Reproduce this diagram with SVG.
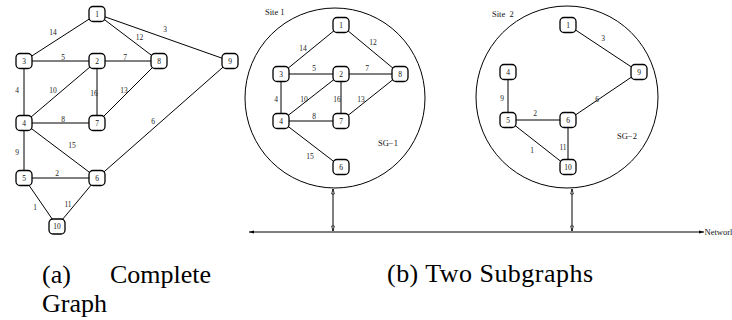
<svg xmlns="http://www.w3.org/2000/svg" width="732" height="320" viewBox="0 0 732 320">
  <defs>
    <style>
      .edge { stroke: #000; stroke-width: 1; fill: none; }
      .box { fill: #fff; stroke: #000; stroke-width: 1.3; }
      .nl { font-family: "Liberation Serif", serif; font-size: 7.5px; text-anchor: middle; fill: #111; opacity: 0.99; }
      .el { font-family: "Liberation Serif", serif; font-size: 7.5px; text-anchor: middle; fill: #222; opacity: 0.99; }
      .site { fill: none; stroke: #000; stroke-width: 1; }
      .tag { font-family: "Liberation Serif", serif; font-size: 8.5px; fill: #111; opacity: 0.99; }
      .cap { font-family: "Liberation Serif", serif; font-size: 26px; fill: #000; }
    </style>
    <marker id="hollow" viewBox="-1 -3 8 6" refX="5" refY="0" markerWidth="8" markerHeight="6" markerUnits="userSpaceOnUse" orient="auto-start-reverse">
      <path d="M0,-1.3 L5,0 L0,1.3 z" fill="#fff" stroke="#000" stroke-width="0.8"/>
    </marker>
    <marker id="solid" viewBox="-1 -3 8 6" refX="5" refY="0" markerWidth="8" markerHeight="6" markerUnits="userSpaceOnUse" orient="auto-start-reverse">
      <path d="M0,-1.6 L5,0 L0,1.6 z" fill="#000"/>
    </marker>
  </defs>
  <rect width="732" height="320" fill="#fff"/>

  <!-- (a) complete graph: connectors -->
  <g id="a-edges">
    <line class="edge" x1="97" y1="14" x2="24" y2="61"/>
    <line class="edge" x1="97" y1="14" x2="159" y2="61"/>
    <line class="edge" x1="97" y1="14" x2="230" y2="61"/>
    <line class="edge" x1="24" y1="61" x2="97" y2="61"/>
    <line class="edge" x1="97" y1="61" x2="159" y2="61"/>
    <line class="edge" x1="24" y1="61" x2="24" y2="123"/>
    <line class="edge" x1="97" y1="61" x2="24" y2="123"/>
    <line class="edge" x1="97" y1="61" x2="97" y2="123"/>
    <line class="edge" x1="159" y1="61" x2="97" y2="123"/>
    <line class="edge" x1="24" y1="123" x2="97" y2="123"/>
    <line class="edge" x1="24" y1="123" x2="97" y2="178"/>
    <line class="edge" x1="230" y1="61" x2="97" y2="178"/>
    <line class="edge" x1="24" y1="123" x2="24" y2="178"/>
    <line class="edge" x1="24" y1="178" x2="97" y2="178"/>
    <line class="edge" x1="24" y1="178" x2="57" y2="226"/>
    <line class="edge" x1="97" y1="178" x2="57" y2="226"/>
    <text class="el" x="53" y="34.5">14</text>
    <text class="el" x="139.5" y="40">12</text>
    <text class="el" x="165" y="31.5">3</text>
    <text class="el" x="63" y="59.5">5</text>
    <text class="el" x="125" y="59.5">7</text>
    <text class="el" x="17" y="92.5">4</text>
    <text class="el" x="53" y="92.5">10</text>
    <text class="el" x="94" y="95.5">16</text>
    <text class="el" x="124" y="92.5">13</text>
    <text class="el" x="63" y="121.5">8</text>
    <text class="el" x="72" y="147.5">15</text>
    <text class="el" x="153" y="123.5">6</text>
    <text class="el" x="17" y="154.5">9</text>
    <text class="el" x="57" y="175.5">2</text>
    <text class="el" x="35" y="209.5">1</text>
    <text class="el" x="68" y="206.5">11</text>
  </g>

  <!-- (a) complete graph: nodes -->
  <g id="a-n1"><rect class="box" x="89" y="6.5" width="16" height="15" rx="4"/><text class="nl" x="97" y="16.5">1</text></g>
  <g id="a-n2"><rect class="box" x="89" y="53.5" width="16" height="15" rx="4"/><text class="nl" x="97" y="63.5">2</text></g>
  <g id="a-n3"><rect class="box" x="16" y="53.5" width="16" height="15" rx="4"/><text class="nl" x="24" y="63.5">3</text></g>
  <g id="a-n4"><rect class="box" x="16" y="115.5" width="16" height="15" rx="4"/><text class="nl" x="24" y="125.5">4</text></g>
  <g id="a-n5"><rect class="box" x="16" y="170.5" width="16" height="15" rx="4"/><text class="nl" x="24" y="180.5">5</text></g>
  <g id="a-n6"><rect class="box" x="89" y="170.5" width="16" height="15" rx="4"/><text class="nl" x="97" y="180.5">6</text></g>
  <g id="a-n7"><rect class="box" x="89" y="115.5" width="16" height="15" rx="4"/><text class="nl" x="97" y="125.5">7</text></g>
  <g id="a-n8"><rect class="box" x="151" y="53.5" width="16" height="15" rx="4"/><text class="nl" x="159" y="63.5">8</text></g>
  <g id="a-n9"><rect class="box" x="222" y="53.5" width="16" height="15" rx="4"/><text class="nl" x="230" y="63.5">9</text></g>
  <g id="a-n10"><rect class="box" x="49" y="219" width="16" height="15" rx="4"/><text class="nl" x="57" y="229">10</text></g>

  <!-- (b) site boundaries -->
  <g id="site1">
    <circle class="site" cx="335" cy="98" r="90"/>
    <text class="tag" x="265" y="14.5">Site 1</text>
    <text class="tag" x="378" y="146" font-size="9">SG−1</text>
  </g>
  <g id="site2">
    <circle class="site" cx="567" cy="97" r="91"/>
    <text class="tag" x="492" y="16.5" xml:space="preserve">Site  2</text>
    <text class="tag" x="617" y="139" font-size="9">SG−2</text>
  </g>

  <!-- (b) subgraph SG-1: connectors -->
  <g id="b-edges">
    <line class="edge" x1="341" y1="25" x2="281" y2="74"/>
    <line class="edge" x1="341" y1="25" x2="400" y2="74"/>
    <line class="edge" x1="281" y1="74" x2="341" y2="74"/>
    <line class="edge" x1="341" y1="74" x2="400" y2="74"/>
    <line class="edge" x1="281" y1="74" x2="281" y2="121"/>
    <line class="edge" x1="341" y1="74" x2="281" y2="121"/>
    <line class="edge" x1="341" y1="74" x2="341" y2="121"/>
    <line class="edge" x1="400" y1="74" x2="341" y2="121"/>
    <line class="edge" x1="281" y1="121" x2="341" y2="121"/>
    <line class="edge" x1="281" y1="121" x2="341" y2="167"/>
    <text class="el" x="303" y="50.5">14</text>
    <text class="el" x="373" y="44.5">12</text>
    <text class="el" x="314" y="70.5">5</text>
    <text class="el" x="367" y="70.5">7</text>
    <text class="el" x="276" y="101.5">4</text>
    <text class="el" x="304" y="101.5">10</text>
    <text class="el" x="337" y="101.5">16</text>
    <text class="el" x="361" y="101.5">13</text>
    <text class="el" x="314" y="118.5">8</text>
    <text class="el" x="310" y="158.5">15</text>
  </g>

  <!-- (b) subgraph SG-1: nodes -->
  <g id="b-n1"><rect class="box" x="333" y="17.5" width="16" height="15" rx="4"/><text class="nl" x="341" y="27.5">1</text></g>
  <g id="b-n2"><rect class="box" x="333" y="66.5" width="16" height="15" rx="4"/><text class="nl" x="341" y="76.5">2</text></g>
  <g id="b-n3"><rect class="box" x="273" y="66.5" width="16" height="15" rx="4"/><text class="nl" x="281" y="76.5">3</text></g>
  <g id="b-n4"><rect class="box" x="273" y="113.5" width="16" height="15" rx="4"/><text class="nl" x="281" y="123.5">4</text></g>
  <g id="b-n6"><rect class="box" x="333" y="159.5" width="16" height="15" rx="4"/><text class="nl" x="341" y="169.5">6</text></g>
  <g id="b-n7"><rect class="box" x="333" y="113.5" width="16" height="15" rx="4"/><text class="nl" x="341" y="123.5">7</text></g>
  <g id="b-n8"><rect class="box" x="392" y="66.5" width="16" height="15" rx="4"/><text class="nl" x="400" y="76.5">8</text></g>

  <!-- (b) subgraph SG-2: connectors -->
  <g id="c-edges">
    <line class="edge" x1="568" y1="25" x2="639" y2="72"/>
    <line class="edge" x1="508" y1="72" x2="508" y2="120"/>
    <line class="edge" x1="508" y1="120" x2="568" y2="120"/>
    <line class="edge" x1="568" y1="120" x2="639" y2="72"/>
    <line class="edge" x1="508" y1="120" x2="568" y2="167"/>
    <line class="edge" x1="568" y1="120" x2="568" y2="167"/>
    <text class="el" x="603" y="40.5">3</text>
    <text class="el" x="502" y="100.5">9</text>
    <text class="el" x="535" y="115.5">2</text>
    <text class="el" x="597" y="101.5">6</text>
    <text class="el" x="532" y="152.5">1</text>
    <text class="el" x="563" y="149.5">11</text>
  </g>

  <!-- (b) subgraph SG-2: nodes -->
  <g id="c-n1"><rect class="box" x="560" y="17.5" width="16" height="15" rx="4"/><text class="nl" x="568" y="27.5">1</text></g>
  <g id="c-n4"><rect class="box" x="500" y="64.5" width="16" height="15" rx="4"/><text class="nl" x="508" y="74.5">4</text></g>
  <g id="c-n5"><rect class="box" x="500" y="112.5" width="16" height="15" rx="4"/><text class="nl" x="508" y="122.5">5</text></g>
  <g id="c-n6"><rect class="box" x="560" y="112.5" width="16" height="15" rx="4"/><text class="nl" x="568" y="122.5">6</text></g>
  <g id="c-n9"><rect class="box" x="631" y="64.5" width="16" height="15" rx="4"/><text class="nl" x="639" y="74.5">9</text></g>
  <g id="c-n10"><rect class="box" x="560" y="159.5" width="16" height="15" rx="4"/><text class="nl" x="568" y="169.5">10</text></g>

  <!-- network bus and site links -->
  <g id="network">
    <line class="edge" x1="249" y1="232" x2="704" y2="232" marker-start="url(#solid)" marker-end="url(#solid)"/>
    <line class="edge" x1="333" y1="189" x2="333" y2="231" marker-start="url(#hollow)" marker-end="url(#hollow)"/>
    <line class="edge" x1="572" y1="189" x2="572" y2="231" marker-start="url(#hollow)" marker-end="url(#hollow)"/>
    <text class="tag" x="704.5" y="234.5">Networl</text>
  </g>

  <!-- captions -->
  <g id="captions">
    <text class="cap" y="283"><tspan x="42">(a)</tspan><tspan x="110">Complete</tspan></text>
    <text class="cap" x="42" y="312">Graph</text>
    <text class="cap" x="387" y="282" textLength="206">(b) Two Subgraphs</text>
  </g>
</svg>
